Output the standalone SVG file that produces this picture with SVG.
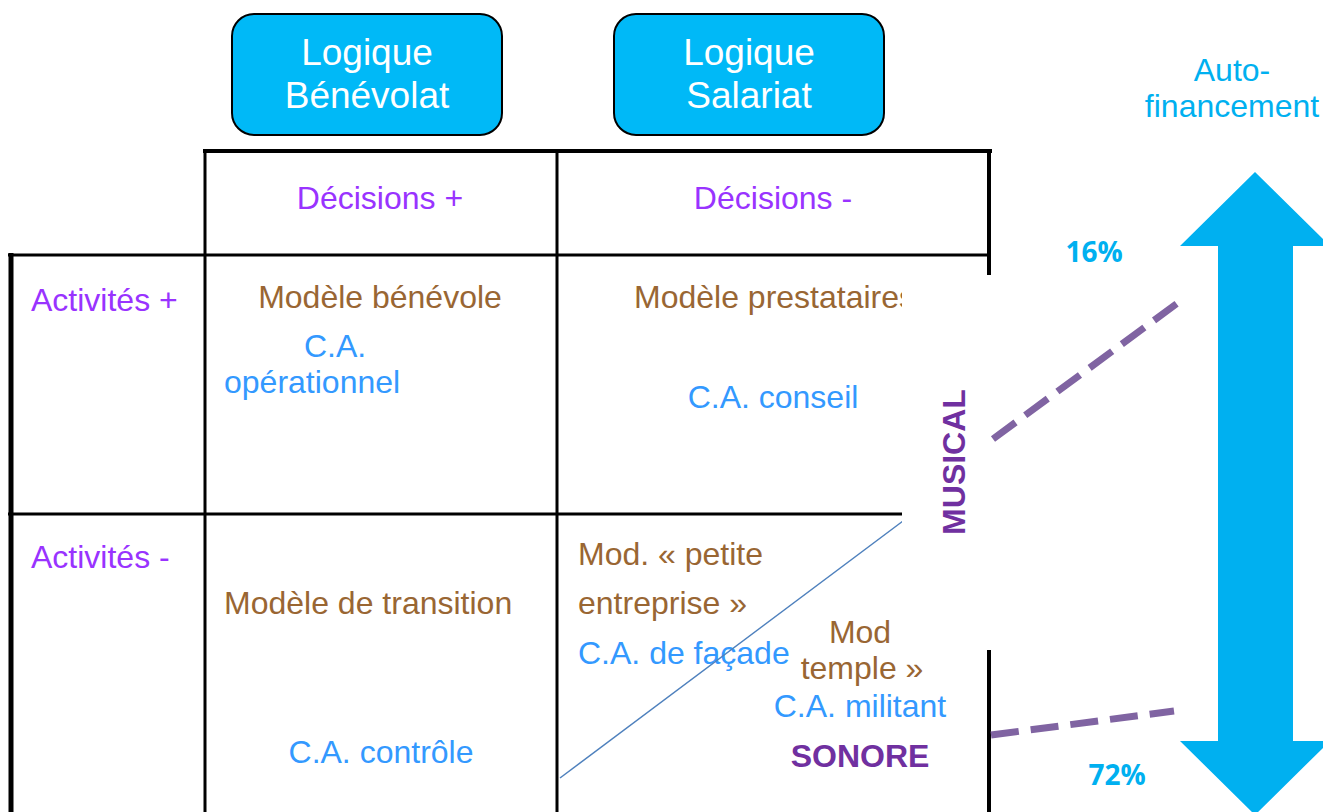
<svg xmlns="http://www.w3.org/2000/svg" width="1323" height="812" viewBox="0 0 1323 812">
<style>
text{font-family:"Liberation Sans",Arial,sans-serif;}
.hdr{fill:#ffffff;font-size:37px;text-anchor:middle;}
.vio{fill:#9933FF;font-size:32px;}
.brn{fill:#996633;font-size:32px;}
.blu{fill:#3399FF;font-size:32px;}
.pur{fill:#7030A0;font-weight:bold;font-size:32px;}
.pct{fill:#00B0F0;font-family:"Open Sans",sans-serif;font-weight:bold;font-size:28px;text-anchor:middle;}
.grid{stroke:#000;fill:none;}
.dash{stroke:#8064A2;stroke-width:7;stroke-dasharray:28 12;fill:none;}
.box{fill:#00B9F7;stroke:#000;stroke-width:2;}
.mid{text-anchor:middle;}
</style>
<rect width="1323" height="812" fill="#fff"/>

<g id="node-benevolat">
<rect class="box" x="232" y="14" width="270" height="121" rx="22"/>
<text class="hdr" x="367" y="65">Logique</text>
<text class="hdr" x="367" y="108">Bénévolat</text>
</g>
<g id="node-salariat">
<rect class="box" x="614" y="14" width="270" height="121" rx="22"/>
<text class="hdr" x="749" y="65">Logique</text>
<text class="hdr" x="749" y="108">Salariat</text>
</g>

<g id="table">
<line class="grid" x1="203" y1="151" x2="992" y2="151" stroke-width="4"/>
<line class="grid" x1="205" y1="151" x2="205" y2="812" stroke-width="3"/>
<line class="grid" x1="557" y1="151" x2="557" y2="812" stroke-width="3"/>
<line class="grid" x1="989" y1="149" x2="989" y2="812" stroke-width="4"/>
<line class="grid" x1="8" y1="255" x2="991" y2="255" stroke-width="3"/>
<line class="grid" x1="11" y1="253" x2="11" y2="812" stroke-width="5"/>
<line class="grid" x1="8" y1="514" x2="989" y2="514" stroke-width="3"/>
</g>

<g id="cells">
<text class="vio mid" x="380" y="209">Décisions +</text>
<text class="vio mid" x="773" y="209">Décisions -</text>
<text class="vio" x="31" y="311">Activités +</text>
<text class="vio" x="31" y="568">Activités -</text>
<text class="brn mid" x="380" y="308">Modèle bénévole</text>
<text class="blu" x="304" y="357">C.A.</text>
<text class="blu" x="224" y="393">opérationnel</text>
<text class="brn" x="634" y="308">Modèle prestataires</text>
<text class="blu mid" x="773" y="408">C.A. conseil</text>
<text class="brn" x="224" y="614">Modèle de transition</text>
<text class="blu mid" x="381" y="763">C.A. contrôle</text>
<text class="brn" x="578" y="565">Mod. « petite</text>
<text class="brn" x="578" y="614">entreprise »</text>
<text class="blu" x="578" y="664">C.A. de façade</text>
<line x1="560" y1="778" x2="903" y2="521" stroke="#4F81BD" stroke-width="1.5"/>
<text class="brn mid" x="860" y="643">Mod</text>
<text class="brn mid" x="862" y="679">temple »</text>
<text class="blu mid" x="860" y="717">C.A. militant</text>
<text class="pur mid" x="860" y="767">SONORE</text>
</g>

<rect id="mask" x="902" y="275" width="90" height="375" fill="#fff"/>

<g id="node-musical">
<text class="pur" font-size="33" text-anchor="middle" transform="translate(965,462) rotate(-90)">MUSICAL</text>
</g>

<g id="node-autofinancement">
<polygon fill="#00B0F0" points="1255,172 1330,246 1293,246 1293,741 1330,741 1255,815 1180,741 1218,741 1218,246 1180,246"/>
<text fill="#00B0F0" font-size="32" text-anchor="middle" x="1232" y="81">Auto-</text>
<text fill="#00B0F0" font-size="32" text-anchor="middle" x="1232" y="117">financement</text>
<text class="pct" x="1094" y="262">16%</text>
<text class="pct" x="1117" y="785">72%</text>
</g>

<g id="connectors">
<line class="dash" x1="993" y1="439" x2="1179" y2="302"/>
<line class="dash" x1="991" y1="735" x2="1174" y2="711"/>
</g>
</svg>
